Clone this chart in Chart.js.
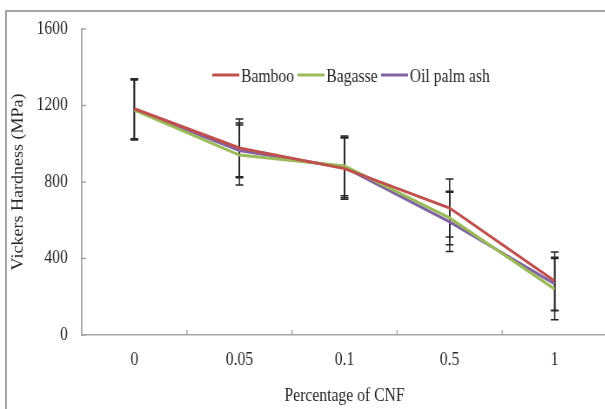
<!DOCTYPE html>
<html>
<head>
<meta charset="utf-8">
<script src="https://cdn.jsdelivr.net/npm/chart.js@4.4.1/dist/chart.umd.min.js"></script>
<style>
  html, body { margin: 0; padding: 0; background: #fff; overflow: hidden; width: 605px; height: 409px; }
  #frame { position: absolute; left: 5px; top: 10px; width: 700px; height: 500px;
           border-left: 2px solid #a3a3a3; border-top: 2px solid #a3a3a3; }
  #wrap { position: absolute; left: 0; top: 0; width: 704px; height: 409px;
          transform: scaleX(0.87); transform-origin: 0 0; }
</style>
</head>
<body>
<div id="frame"></div>
<div id="wrap"><canvas id="myChart" width="704" height="409"></canvas></div>
<script>
'use strict';

// data
let categories = ['0', '0.05', '0.1', '0.5', '1'];
let bamboo = [1183, 978, 870, 664, 282];
let bagasse = [1176, 941, 884, 612, 240];
let oilPalm = [1180, 965, 876, 591, 267];
let bambooErr = [157, 151, 160, 152, 152];
let bagasseErr = [157, 157, 156, 140, 160];
let oilPalmErr = [157, 143, 158, 155, 140];
let yTicks = [0, 400, 800, 1200, 1600];

let serif = "'Liberation Serif', 'Times New Roman', serif";
let textColor = '#262626';
let axisColor = '#a6a6a6';

// error bars, drawn under the lines
let errorBars = {
    id: 'errorBars',
    beforeDatasetsDraw(chart) {
        let ctx = chart.ctx;
        let y = chart.scales.y;
        ctx.save();
        ctx.strokeStyle = '#262626';
        ctx.lineWidth = 1.5;
        chart.data.datasets.forEach(function (ds, d) {
            let meta = chart.getDatasetMeta(d);
            meta.data.forEach(function (pt, i) {
                let v = ds.data[i];
                let e = ds.errors[i];
                let top = y.getPixelForValue(v + e);
                let bot = y.getPixelForValue(v - e);
                ctx.beginPath();
                ctx.moveTo(pt.x, top);
                ctx.lineTo(pt.x, bot);
                ctx.moveTo(pt.x - 4.5, top);
                ctx.lineTo(pt.x + 4.5, top);
                ctx.moveTo(pt.x - 4.5, bot);
                ctx.lineTo(pt.x + 4.5, bot);
                ctx.stroke();
            });
        });
        ctx.restore();
    }
};

// small inward tick marks like the original
let innerTicks = {
    id: 'innerTicks',
    beforeDatasetsDraw(chart) {
        let ctx = chart.ctx;
        let x = chart.scales.x;
        let y = chart.scales.y;
        let area = chart.chartArea;
        ctx.save();
        ctx.strokeStyle = axisColor;
        ctx.lineWidth = 1.5;
        ctx.beginPath();
        y.ticks.forEach(function (t, i) {
            let py = y.getPixelForTick(i);
            ctx.moveTo(area.left, py);
            ctx.lineTo(area.left + 5, py);
        });
        for (let i = 1; i <= categories.length; i++) {
            let px = (x.getPixelForValue(i - 1) + x.getPixelForValue(i)) / 2;
            ctx.moveTo(px, area.bottom);
            ctx.lineTo(px, area.bottom - 5);
        }
        ctx.stroke();
        ctx.restore();
    }
};

// legend sits inside the plot area
let innerLegend = {
    id: 'innerLegend',
    afterDraw(chart) {
        let ctx = chart.ctx;
        let px = 244;
        let py = 76;
        ctx.save();
        ctx.font = '18px ' + serif;
        ctx.textBaseline = 'middle';
        ctx.fillStyle = textColor;
        chart.data.datasets.forEach(function (ds) {
            ctx.strokeStyle = ds.borderColor;
            ctx.lineWidth = 3;
            ctx.beginPath();
            ctx.moveTo(px, py - 1);
            ctx.lineTo(px + 31, py - 1);
            ctx.stroke();
            px += 33;
            ctx.fillText(ds.label, px, py + 1);
            px += ctx.measureText(ds.label).width + 4;
        });
        ctx.restore();
    }
};

let ctx = document.getElementById('myChart').getContext('2d');
let myChart = new Chart(ctx, {
    type: 'line',
    data: {
        labels: categories,
        datasets: [{
            label: 'Bamboo',
            data: bamboo,
            errors: bambooErr,
            borderColor: '#c0504d',
            borderWidth: 3,
            pointRadius: 0,
            tension: 0
        }, {
            label: 'Bagasse',
            data: bagasse,
            errors: bagasseErr,
            borderColor: '#9bbb59',
            borderWidth: 3,
            pointRadius: 0,
            tension: 0
        }, {
            label: 'Oil palm ash',
            data: oilPalm,
            errors: oilPalmErr,
            borderColor: '#8064a2',
            borderWidth: 3,
            pointRadius: 0,
            tension: 0
        }]
    },
    options: {
        responsive: false,
        animation: false,
        devicePixelRatio: 1,
        layout: { padding: { top: 29, right: 6, left: 0, bottom: 0 } },
        plugins: {
            legend: { display: false },
            tooltip: { enabled: false }
        },
        scales: {
            x: {
                offset: true,
                afterFit: function (s) { s.height = 74; },
                grid: { display: true, drawOnChartArea: false, drawTicks: false },
                border: { display: true, color: axisColor, width: 1.5 },
                ticks: { padding: 14, color: textColor, font: { family: serif, size: 18 } },
                title: {
                    display: true,
                    text: 'Percentage of CNF',
                    color: textColor,
                    font: { family: serif, size: 18 },
                    padding: { top: 0, bottom: 2 }
                }
            },
            y: {
                min: 0,
                max: 1600,
                afterFit: function (s) { s.width = 94; },
                afterBuildTicks: function (s) { s.ticks = yTicks.map(function (v) { return { value: v }; }); },
                grid: { display: true, drawOnChartArea: false, drawTicks: false },
                border: { display: true, color: axisColor, width: 1.7 },
                ticks: {
                    padding: 16,
                    color: textColor,
                    font: { family: serif, size: 18 },
                    callback: function (v) { return String(v); }
                },
                title: {
                    display: true,
                    text: 'Vickers Hardness (MPa)',
                    color: textColor,
                    font: { family: serif, size: 18 },
                    padding: { top: 10, bottom: 0 }
                }
            }
        }
    },
    plugins: [innerTicks, errorBars, innerLegend]
});
</script>
</body>
</html>
